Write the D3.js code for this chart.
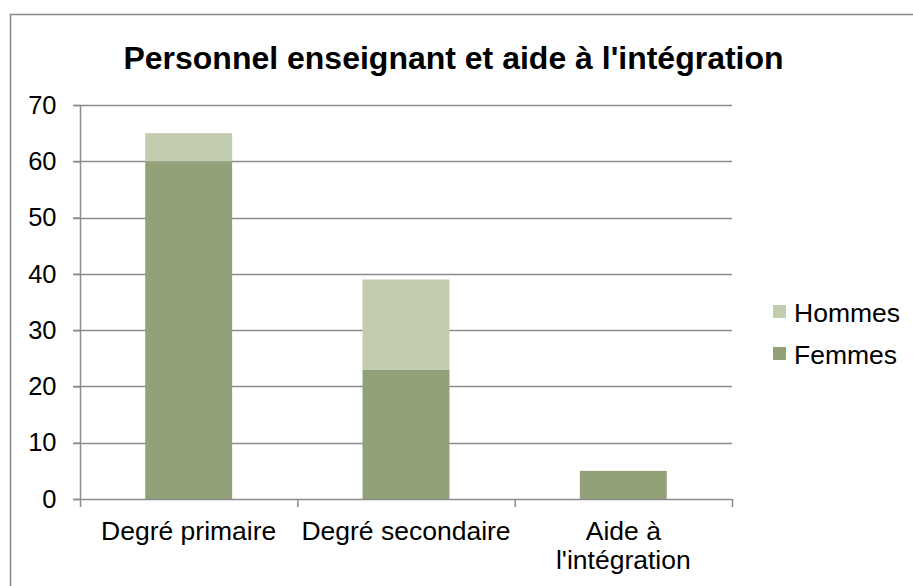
<!DOCTYPE html>
<html><head><meta charset="utf-8">
<script src="https://cdn.jsdelivr.net/npm/d3@7"></script>
<style>body{margin:0;background:#fff}svg{display:block}</style>
</head><body>
<script>
const categories = [["Degré primaire"], ["Degré secondaire"], ["Aide à", "l'intégration"]];
const femmes = [60, 23, 5];
const hommes = [5, 16, 0];
const seriesNames = ["Femmes", "Hommes"];
const yTicks = [0, 10, 20, 30, 40, 50, 60, 70];
const title = "Personnel enseignant et aide à l'intégration";

const W = 913, H = 586;
const m = {left: 80, right: 181, top: 105, bottom: 87};
const svg = d3.select("body").append("svg").attr("width", W).attr("height", H);

svg.append("rect").attr("x", 10.5).attr("y", 14.5).attr("width", 1000).attr("height", 1000)
  .attr("fill", "#fff").attr("stroke", "#888").attr("stroke-width", 1.5);

const x = d3.scaleBand().domain(d3.range(categories.length)).range([m.left, W - m.right])
  .paddingInner(0.6).paddingOuter(0.3);
const y = d3.scaleLinear().domain([0, 70]).range([H - m.bottom, m.top]);

const colors = {Femmes: "#93a178", Hommes: "#c2ccae"};
const font = "Arial, 'Liberation Sans', sans-serif";

// gridlines
svg.append("g").selectAll("line").data(yTicks.filter(d => d > 0)).join("line")
  .attr("x1", m.left - 7).attr("x2", W - m.right)
  .attr("y1", d => Math.round(y(d)) + 0.5).attr("y2", d => Math.round(y(d)) + 0.5)
  .attr("stroke", "#8c8c8c").attr("stroke-width", 1.5);

// bars
const data = categories.map((c, i) => ({i, Femmes: femmes[i], Hommes: hommes[i]}));
const stack = d3.stack().keys(seriesNames)(data);
svg.append("g").selectAll("g").data(stack).join("g").attr("fill", d => colors[d.key])
  .selectAll("rect").data(d => d).join("rect")
  .attr("x", (d, j) => x(j)).attr("width", x.bandwidth())
  .attr("y", d => y(d[1])).attr("height", d => y(d[0]) - y(d[1]));

// axes
const yAxis = d3.axisLeft(y).tickValues(yTicks).tickSize(7).tickPadding(17);
const gy = svg.append("g").attr("transform", `translate(${m.left + 0.5},0)`).call(yAxis);
gy.select(".domain").attr("stroke", "#8c8c8c").attr("stroke-width", 1.5).attr("d", `M0,${m.top}V${H - m.bottom}`);
gy.selectAll(".tick line").attr("stroke", "#8c8c8c").attr("stroke-width", 1.5);
gy.selectAll(".tick text").attr("font-family", font).attr("font-size", 25.5).attr("fill", "#000");

// x axis line and ticks
const xEdges = d3.range(categories.length + 1).map(k => m.left + k * x.step());
svg.append("line").attr("x1", m.left - 7).attr("x2", W - m.right)
  .attr("y1", y(0) + 0.5).attr("y2", y(0) + 0.5).attr("stroke", "#8c8c8c").attr("stroke-width", 1.5);
svg.append("g").selectAll("line").data(xEdges).join("line")
  .attr("x1", d => d + 0.5).attr("x2", d => d + 0.5)
  .attr("y1", y(0)).attr("y2", y(0) + 8).attr("stroke", "#8c8c8c").attr("stroke-width", 1.5);

// category labels
const cl = svg.append("g").selectAll("text").data(categories).join("text")
  .attr("x", (d, i) => x(i) + x.bandwidth() / 2).attr("y", 540)
  .attr("text-anchor", "middle").attr("font-family", font).attr("font-size", 26.5).attr("fill", "#000");
cl.selectAll("tspan").data(d => d).join("tspan")
  .attr("x", function() { return this.parentNode.getAttribute("x"); })
  .attr("dy", (d, k) => k === 0 ? 0 : 29).text(d => d);

// title
svg.append("text").attr("x", 453.5).attr("y", 69).attr("text-anchor", "middle")
  .attr("font-family", font).attr("font-size", 32).attr("font-weight", "bold").text(title);

// legend
const legendItems = ["Hommes", "Femmes"];
const lg = svg.append("g").selectAll("g").data(legendItems).join("g")
  .attr("transform", (d, i) => `translate(773,${305 + i * 42})`);
lg.append("rect").attr("width", 13).attr("height", 13).attr("fill", d => colors[d]);
lg.append("text").attr("x", 21).attr("y", 16.5).attr("font-family", font).attr("font-size", 26.5).text(d => d);
</script>
</body></html>
